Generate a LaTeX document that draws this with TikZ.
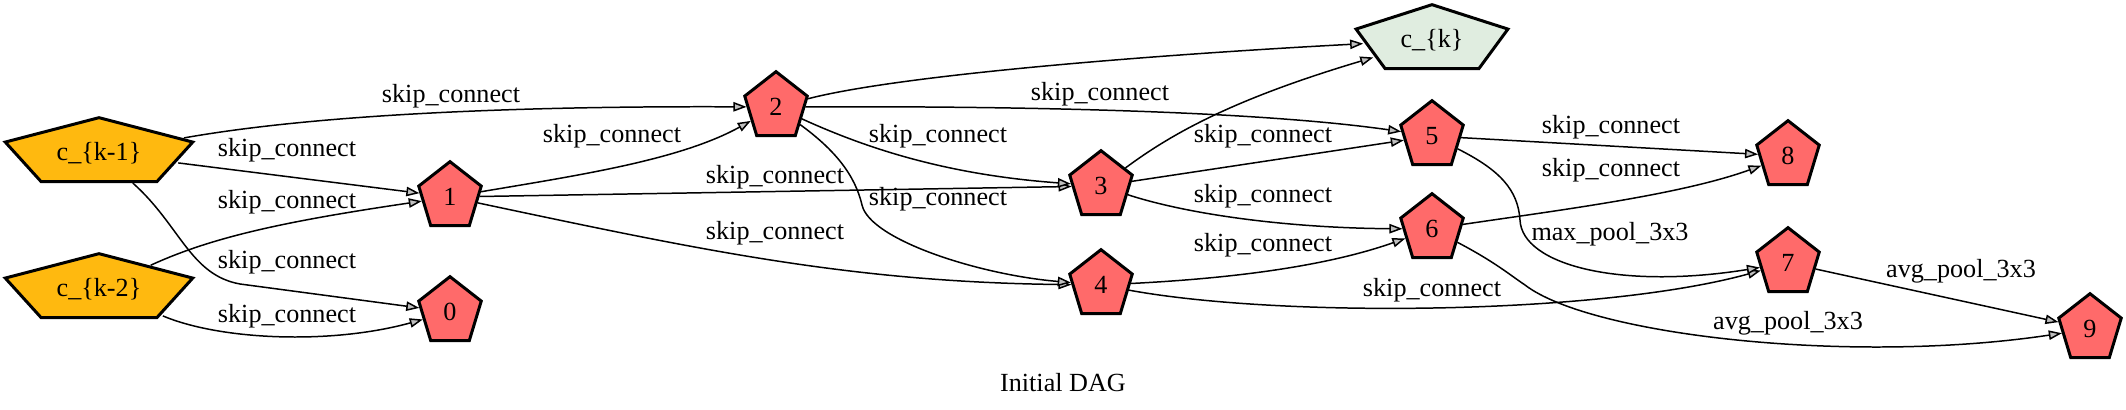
\documentclass[tikz,border=0pt]{standalone}
\usepackage{fontspec}
\setmainfont{Liberation Serif}
\usetikzlibrary{shapes.geometric,arrows.meta}

\definecolor{opred}{HTML}{FF6A6A}
\definecolor{inorange}{HTML}{FFB90F}
\definecolor{outgreen}{HTML}{E0EDE0}

\newcommand{\squeeze}[2]{\scalebox{#1}[1]{#2}}

\begin{document}
\begin{tikzpicture}[x=0.535pt, y=-0.535pt,
                    every node/.style={font=\fontsize{14}{16}\selectfont},
                    pentnode/.style={regular polygon, regular polygon sides=5, draw, line width=1.6pt, minimum size=37.8pt, inner sep=0pt},
                    opnode/.style={pentnode, fill=opred, xscale=0.93, transform shape},
                    cellnode/.style={pentnode, xscale=#1, transform shape},
                    conn/.style={line width=0.8pt, -{Triangle[length=7pt, width=5pt, fill=gray!50]}},
                    lbl/.style={inner sep=0pt},
                ]
                    \useasboundingbox (0,0) rectangle (2126,410);

                    %Nodes
                    \node[cellnode=2.79, fill=inorange](km1) at (99,153) {\squeeze{0.358}{c\_\{k-1\}}};
                    \node[cellnode=2.79, fill=inorange](km2) at (99,289) {\squeeze{0.358}{c\_\{k-2\}}};
                    \node[cellnode=2.26, fill=outgreen](ck) at (1432,40) {\squeeze{0.442}{c\_\{k\}}};
                    \foreach \n/\x/\y in {0/450/312, 1/450/197, 2/776/107, 3/1101/186, 4/1101/285,
                                          5/1432/136, 6/1432/229, 7/1788/263, 8/1788/156, 9/2090/329}
                        \node[opnode](n\n) at (\x,\y) {\squeeze{1.075}{\n}};

                    %Lines
                    \draw[conn](km1) .. controls (330,112) and (550,106) .. (n2) node[lbl, at={(451,96)}](lkm1n2) {skip\_connect};
                    \draw[conn](km1) -- (n1) node[lbl, at={(287,150)}](lkm1n1) {skip\_connect};
                    \draw[conn](km1) .. controls (180,225) and (190,275) .. (240,284) -- (n0) node[lbl, at={(287,262)}](lkm1n0) {skip\_connect};
                    \draw[conn](km2) .. controls (210,238) and (280,222) .. (n1) node[lbl, at={(287,202)}](lkm2n1) {skip\_connect};
                    \draw[conn](km2) .. controls (220,340) and (330,345) .. (n0) node[lbl, at={(287,316)}](lkm2n0) {skip\_connect};
                    \draw[conn](n1) .. controls (580,175) and (680,160) .. (n2) node[lbl, at={(612,136)}](ln1n2) {skip\_connect};
                    \draw[conn](n1) -- (n3) node[lbl, at={(775,177)}](ln1n3) {skip\_connect};
                    \draw[conn](n1) .. controls (700,250) and (850,282) .. (n4) node[lbl, at={(775,233)}](ln1n4) {skip\_connect};
                    \draw[conn](n2) .. controls (900,75) and (1150,55) .. (ck);
                    \draw[conn](n2) .. controls (1000,106) and (1250,110) .. (n5) node[lbl, at={(1100,94)}](ln2n5) {skip\_connect};
                    \draw[conn](n2) .. controls (870,150) and (950,175) .. (n3) node[lbl, at={(938,136)}](ln2n3) {skip\_connect};
                    \draw[conn](n2) .. controls (835,150) and (855,175) .. (862,205) .. controls (870,240) and (980,275) .. (n4) node[lbl, at={(938,199)}](ln2n4) {skip\_connect};
                    \draw[conn](n3) .. controls (1170,135) and (1230,100) .. (ck);
                    \draw[conn](n3) -- (n5) node[lbl, at={(1263,136)}](ln3n5) {skip\_connect};
                    \draw[conn](n3) .. controls (1190,215) and (1290,228) .. (n6) node[lbl, at={(1263,196)}](ln3n6) {skip\_connect};
                    \draw[conn](n4) .. controls (1240,278) and (1330,265) .. (n6) node[lbl, at={(1263,245)}](ln4n6) {skip\_connect};
                    \draw[conn](n4) .. controls (1280,318) and (1600,315) .. (n7) node[lbl, at={(1432,290)}](ln4n7) {skip\_connect};
                    \draw[conn](n5) -- (n8) node[lbl, at={(1611,127)}](ln5n8) {skip\_connect};
                    \draw[conn](n5) .. controls (1500,170) and (1518,190) .. (1520,220) .. controls (1522,265) and (1620,290) .. (n7) node[lbl, at={(1610,234)}](ln5n7) {max\_pool\_3x3};
                    \draw[conn](n6) .. controls (1560,210) and (1680,195) .. (n8) node[lbl, at={(1611,170)}](ln6n8) {skip\_connect};
                    \draw[conn](n6) .. controls (1495,262) and (1510,275) .. (1525,285) .. controls (1590,335) and (1850,365) .. (n9) node[lbl, at={(1788,323)}](ln6n9) {avg\_pool\_3x3};
                    \draw[conn](n7) -- (n9) node[lbl, at={(1961,271)}](ln7n9) {avg\_pool\_3x3};

                    %Caption
                    \node(title) at (1063,383) {Initial DAG};
                \end{tikzpicture}
\end{document}
